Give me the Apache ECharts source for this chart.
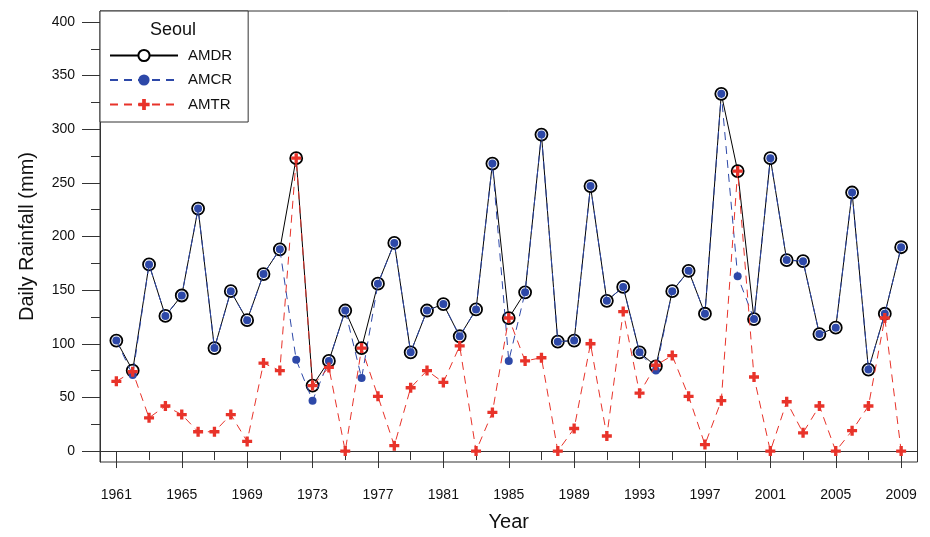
<!DOCTYPE html>
<html>
<head>
<meta charset="utf-8">
<script src="https://cdn.jsdelivr.net/npm/echarts@6/dist/echarts.min.js"></script>
<style>
  html, body { margin: 0; padding: 0; background: #fff; }
  #chart { width: 930px; height: 537px; }
</style>
</head>
<body>
<div id="chart"></div>
<script>
// Annual maximum daily rainfall at Seoul, 1961-2009
const years = [];
for (let y = 1961; y <= 2009; y++) years.push(y);

const amdr = [103, 75, 174, 126, 145, 226, 96, 149, 122, 165,
              188, 273, 61, 84, 131, 96, 156, 194, 92, 131,
              137, 107, 132, 268, 124, 148, 295, 102, 103, 247,
              140, 153, 92, 79, 149, 168, 128, 333, 261, 123,
              273, 178, 177, 109, 115, 241, 76, 128, 190];

const amcr = [103, 71, 174, 126, 145, 226, 96, 149, 122, 165,
              188, 85, 47, 84, 131, 68, 156, 194, 92, 131,
              137, 107, 132, 268, 84, 148, 295, 102, 103, 247,
              140, 153, 92, 75, 149, 168, 128, 333, 163, 123,
              273, 178, 177, 109, 115, 241, 76, 128, 190];

const amtr = [65, 74, 31, 42, 34, 18, 18, 34, 9, 82,
              75, 273, 61, 78, 0, 96, 51, 5, 59, 75,
              64, 98, 0, 36, 124, 84, 87, 0, 21, 100,
              14, 130, 54, 80, 89, 51, 6, 47, 261, 69,
              0, 46, 17, 42, 0, 19, 42, 124, 0];

const yLabelValues = [0, 50, 100, 150, 200, 250, 300, 350, 400];
const yMinorValues = [25, 75, 125, 175, 225, 275, 325, 375];
const xLabelValues = [1961, 1965, 1969, 1973, 1977, 1981, 1985, 1989, 1993, 1997, 2001, 2005, 2009];
const xMinorValues = [1963, 1967, 1971, 1975, 1979, 1983, 1987, 1991, 1995, 1999, 2003, 2007];

const pairs = vals => years.map((y, i) => [y, vals[i]]);

const FONT = '"Liberation Sans", Arial, Helvetica, sans-serif';
const AXIS_COLOR = '#333';
const plusPath = 'path://M3,0H6V3H9V6H6V9H3V6H0V3H3Z';

const X_RANGE = { min: 1960, max: 2010 };
const Y_RANGE = { min: -10.2, max: 410.2 };

const chart = echarts.init(document.getElementById('chart'), null, { renderer: 'canvas' });

chart.setOption({
  animation: false,
  backgroundColor: '#fff',
  textStyle: { fontFamily: FONT },
  grid: {
    left: 100, right: 12.5, top: 11, bottom: 72,
    show: true, borderColor: AXIS_COLOR, borderWidth: 1, backgroundColor: 'transparent'
  },
  graphic: [{
    type: 'text', left: 150, top: 21, z: 100,
    style: { text: 'Seoul', fontSize: 18, fontFamily: FONT, fill: '#111' }
  }],
  legend: {
    left: 100, top: 11, orient: 'vertical',
    padding: [37, 16, 10, 9],
    itemWidth: 68, itemHeight: 14, itemGap: 9.5,
    borderColor: AXIS_COLOR, borderWidth: 1, backgroundColor: '#fff',
    textStyle: { fontSize: 15, color: '#111', fontFamily: FONT, padding: [0, 0, 0, 5] },
    data: ['AMDR', 'AMCR', 'AMTR']
  },
  xAxis: [{
    type: 'value', ...X_RANGE,
    name: 'Year', nameLocation: 'middle', nameGap: 50,
    nameTextStyle: { fontSize: 20, color: '#111', fontFamily: FONT },
    axisLine: { show: true, lineStyle: { color: AXIS_COLOR, width: 1 } },
    axisTick: { show: true, length: 17, customValues: xLabelValues, lineStyle: { color: AXIS_COLOR } },
    axisLabel: {
      customValues: xLabelValues, fontSize: 14, color: '#111', margin: 26, fontFamily: FONT,
      formatter: v => String(v)
    },
    splitLine: { show: false }
  }, {
    type: 'value', ...X_RANGE, position: 'bottom',
    axisLine: { show: false },
    axisTick: { show: true, length: 9, customValues: xMinorValues, lineStyle: { color: AXIS_COLOR } },
    axisLabel: { show: false },
    splitLine: { show: false }
  }],
  yAxis: [{
    type: 'value', ...Y_RANGE,
    name: 'Daily Rainfall (mm)', nameLocation: 'middle', nameGap: 63,
    nameTextStyle: { fontSize: 20, color: '#111', fontFamily: FONT },
    axisLine: { show: true, lineStyle: { color: AXIS_COLOR, width: 1 } },
    axisTick: { show: true, length: 18, customValues: yLabelValues, lineStyle: { color: AXIS_COLOR } },
    axisLabel: { customValues: yLabelValues, fontSize: 14, color: '#111', margin: 25, fontFamily: FONT },
    splitLine: { show: false }
  }, {
    type: 'value', ...Y_RANGE, position: 'left',
    axisLine: { show: false },
    axisTick: { show: true, length: 9, customValues: yMinorValues, lineStyle: { color: AXIS_COLOR } },
    axisLabel: { show: false },
    splitLine: { show: false }
  }],
  series: [{
    name: 'AMDR', type: 'line', data: pairs(amdr),
    symbol: 'circle', symbolSize: 12, showAllSymbol: true,
    lineStyle: { color: '#000', width: 1 },
    itemStyle: { color: '#fff', borderColor: '#000', borderWidth: 1.8 },
    z: 2
  }, {
    name: 'AMCR', type: 'line', data: pairs(amcr),
    symbol: 'circle', symbolSize: 8, showAllSymbol: true,
    lineStyle: { color: '#2d48a8', width: 1, type: [8, 6] },
    itemStyle: { color: '#2d48a8', borderWidth: 0 },
    z: 3
  }, {
    name: 'AMTR', type: 'line', data: pairs(amtr),
    symbol: plusPath, symbolSize: 10, showAllSymbol: true,
    lineStyle: { color: '#e8332a', width: 1, type: [8, 6] },
    itemStyle: { color: '#e8332a', borderWidth: 0 },
    z: 4
  }]
});
</script>
</body>
</html>
